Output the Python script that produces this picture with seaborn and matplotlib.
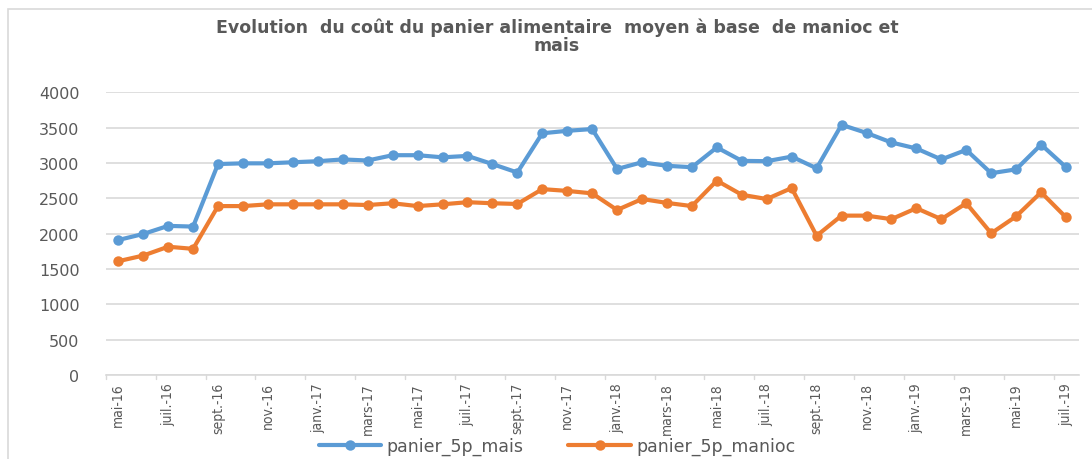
import numpy as np
import pandas as pd
import matplotlib
matplotlib.use("Agg")
import matplotlib.pyplot as plt
import matplotlib.patches as mpatches
from matplotlib.lines import Line2D
import seaborn as sns

# ── Data ───────────────────────────────────────────────────────────────────────
months = [
    "mai-16", "juin-16", "juil.-16", "août-16", "sept.-16", "oct.-16", "nov.-16", "déc.-16",
    "janv.-17", "févr.-17", "mars-17", "avr.-17", "mai-17", "juin-17", "juil.-17", "août-17",
    "sept.-17", "oct.-17", "nov.-17", "déc.-17", "janv.-18", "févr.-18", "mars-18", "avr.-18",
    "mai-18", "juin-18", "juil.-18", "août-18", "sept.-18", "oct.-18", "nov.-18", "déc.-18",
    "janv.-19", "févr.-19", "mars-19", "avr.-19", "mai-19", "juin-19", "juil.-19",
]
panier_5p_mais = [
    1910, 1995, 2110, 2100, 2985, 2995, 2995, 3010, 3025, 3050, 3035, 3110, 3110,
    3080, 3100, 2985, 2865, 3420, 3455, 3480, 2915, 3010, 2960, 2940, 3220, 3030,
    3025, 3090, 2925, 3540, 3425, 3290, 3205, 3050, 3185, 2855, 2910, 3260, 2940,
]
panier_5p_manioc = [
    1610, 1690, 1815, 1785, 2390, 2390, 2415, 2415, 2415, 2415, 2405, 2430, 2390,
    2415, 2445, 2430, 2420, 2630, 2605, 2570, 2335, 2490, 2435, 2390, 2750, 2550,
    2490, 2645, 1970, 2255, 2255, 2205, 2360, 2205, 2430, 2005, 2245, 2585, 2230,
]
series_names = ["panier_5p_mais", "panier_5p_manioc"]
series_colors = ["#5B9BD5", "#ED7D31"]

TEXT = "#595959"
GRID = "#D9D9D9"

df = pd.DataFrame({
    "idx": list(range(len(months))) * 2,
    "value": panier_5p_mais + panier_5p_manioc,
    "serie": [series_names[0]] * len(months) + [series_names[1]] * len(months),
})

sns.set_theme(style="white")
plt.rcParams["font.family"] = ["DejaVu Sans"]

fig = plt.figure(figsize=(10.92, 4.6), dpi=100, facecolor="white")
ax = fig.add_axes([105.8 / 1092, 1 - 376 / 460, (1078.5 - 105.8) / 1092, (376 - 93.3) / 460])

sns.lineplot(data=df, x="idx", y="value", hue="serie", palette=series_colors,
             marker="o", markersize=7.5, markeredgewidth=0, linewidth=3.0,
             legend=False, ax=ax, zorder=3)

ax.set_xlim(-0.5, len(months) - 0.5)
ax.set_ylim(0, 4000)
ax.set_yticks(np.arange(0, 4001, 500))
ax.set_yticklabels([str(v) for v in range(0, 4001, 500)], color=TEXT, fontsize=11.5)
ax.yaxis.grid(True, color=GRID, linewidth=1.2)
ax.xaxis.grid(False)
ax.tick_params(axis="y", length=0, pad=19)

ax.set_xticks(range(0, len(months), 2))
ax.set_xticklabels(months[::2], rotation=90, color=TEXT, fontsize=10,
                   fontstretch="condensed")
ax.tick_params(axis="x", length=0, pad=5)
# small tick marks between categories
for b in np.arange(-0.5, len(months), 2):
    ax.plot([b, b], [0, -50], color=GRID, linewidth=1, clip_on=False, zorder=1)

for side in ["top", "right", "left"]:
    ax.spines[side].set_visible(False)
ax.spines["bottom"].set_color(GRID)
ax.spines["bottom"].set_linewidth(1.2)
ax.set_xlabel("")
ax.set_ylabel("")

fig.text(0.51, 1 - 28 / 460, "Evolution  du coût du panier alimentaire  moyen à base  de manioc et",
         ha="center", va="center", fontsize=12.5, fontweight="bold", color=TEXT)
fig.text(0.51, 1 - 46 / 460, "mais", ha="center", va="center",
         fontsize=12.5, fontweight="bold", color=TEXT)

handles = [Line2D([0], [0], color=c, linewidth=3.0, marker="o", markersize=7.5,
                  markeredgewidth=0) for c in series_colors]
fig.legend(handles, series_names, loc="center", bbox_to_anchor=(0.51, 1 - 447 / 460),
           ncol=2, frameon=False, fontsize=12.5, handlelength=3.6, columnspacing=2.6,
           handletextpad=0.3, labelcolor=TEXT)

# outer chart border
fig.patches.append(mpatches.Rectangle((8 / 1092, -0.01), 1.1, 1 - 10 / 460 + 0.01,
                                      transform=fig.transFigure, fill=False,
                                      edgecolor=GRID, linewidth=1.2))

plt.savefig("out.png", dpi=100)
plt.close()
